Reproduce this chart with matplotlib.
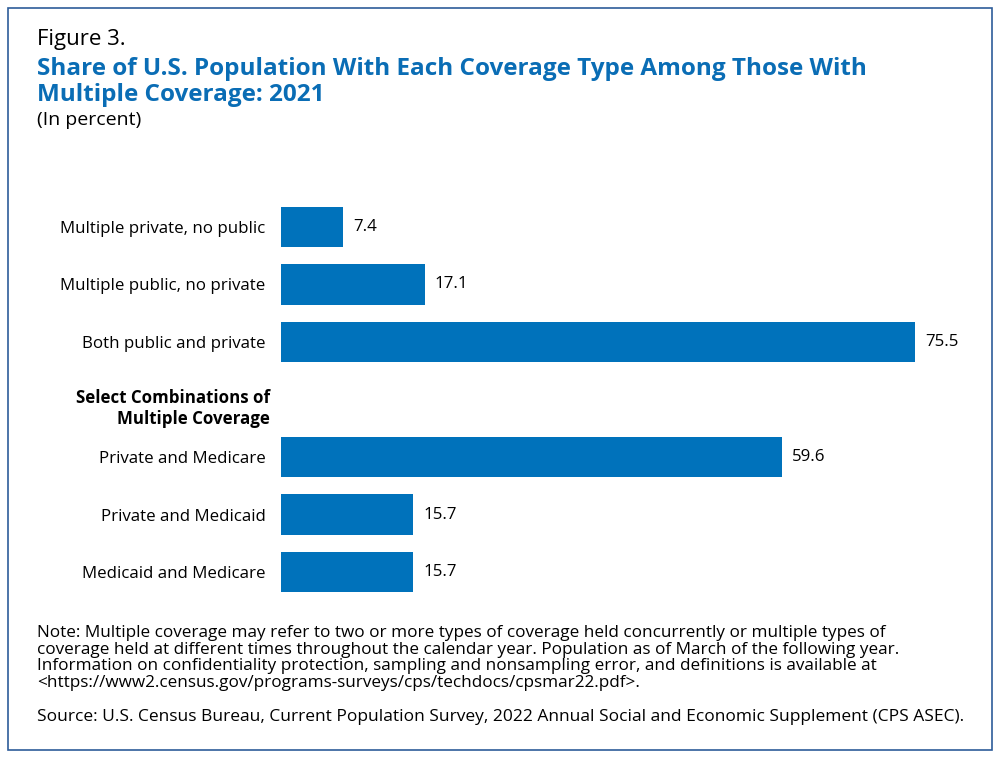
import matplotlib
matplotlib.use('Agg')
import matplotlib.pyplot as plt
from matplotlib.patches import Rectangle
import matplotlib.transforms as mtransforms

plt.rcParams['font.family'] = ['Open Sans', 'DejaVu Sans']

categories = ["Multiple private, no public", "Multiple public, no private",
              "Both public and private", "Private and Medicare",
              "Private and Medicaid", "Medicaid and Medicare"]
values = [7.4, 17.1, 75.5, 59.6, 15.7, 15.7]
positions = [0, 1, 2, 4, 5, 6]

bar_color = "#0072bb"
title_color = "#0a6db5"

W, H = 1000, 758
fig = plt.figure(figsize=(10, 7.58), dpi=100)

fig.patches.append(Rectangle((8 / W, 8 / H), 984 / W, 742 / H, transform=fig.transFigure,
                             fill=False, edgecolor="#2e5c9a", linewidth=1.2))

fig.text(37 / W, 1 - 40 / H, "Figure 3.", fontsize=16, va='center')
fig.text(37 / W, 1 - 82 / H, "Share of U.S. Population With Each Coverage Type Among Those With\nMultiple Coverage: 2021",
         fontsize=17.5, fontweight='bold', color=title_color, va='center', linespacing=1.1)
fig.text(37 / W, 1 - 120 / H, "(In percent)", fontsize=14, va='center')

ax = fig.add_axes([281 / W, 1 - 601 / H, 700 / W, 403 / H])
ax.barh(positions, values, height=0.7, color=bar_color)
ax.set_xlim(0, 700 / 8.4)
ax.set_ylim(6.5, -0.5)
for p, v in zip(positions, values):
    ax.text(v + 1.2, p, f"{v}", va='center', ha='left', fontsize=12.2)
ax.set_yticks(positions, categories, fontsize=12.2)
ax.tick_params(axis='y', length=0, pad=11)
ax.set_xticks([])
for s in ax.spines.values():
    s.set_visible(False)

trans = mtransforms.blended_transform_factory(fig.transFigure, ax.transData)
ax.text(270 / W, 3.15, "Select Combinations of\nMultiple Coverage", transform=trans,
        ha='right', va='center', fontsize=12.2, fontweight='bold', linespacing=1.2)

note = ("Note: Multiple coverage may refer to two or more types of coverage held concurrently or multiple types of\n"
        "coverage held at different times throughout the calendar year. Population as of March of the following year.\n"
        "Information on confidentiality protection, sampling and nonsampling error, and definitions is available at\n"
        "<https://www2.census.gov/programs-surveys/cps/techdocs/cpsmar22.pdf>.")
fig.text(37 / W, 1 - 625 / H, note, fontsize=12.3, va='top', linespacing=1.05)
fig.text(37 / W, 1 - 717 / H, "Source: U.S. Census Bureau, Current Population Survey, 2022 Annual Social and Economic Supplement (CPS ASEC).",
         fontsize=12.5, va='center')

fig.savefig("out.png", dpi=100)
